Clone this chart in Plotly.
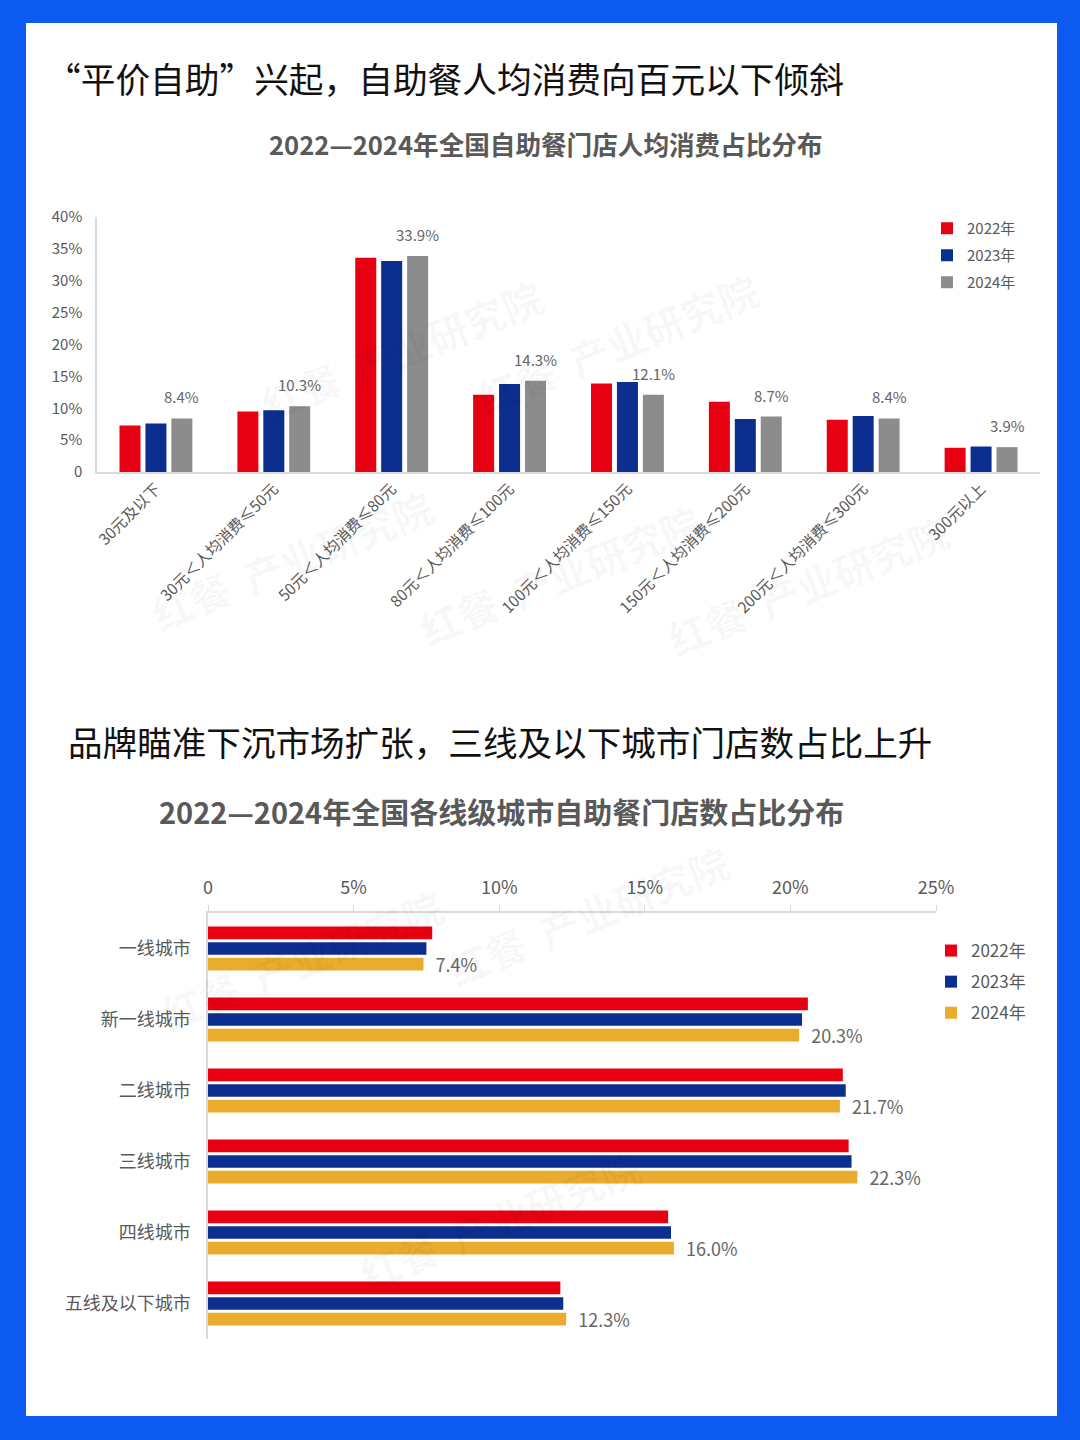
import plotly.graph_objects as go

# ---------------- data ----------------
price_cats = ["30元及以下", "30元＜人均消费≤50元", "50元＜人均消费≤80元", "80元＜人均消费≤100元",
              "100元＜人均消费≤150元", "150元＜人均消费≤200元", "200元＜人均消费≤300元", "300元以上"]
price_2022 = [7.3, 9.5, 33.6, 12.1, 13.9, 11.0, 8.2, 3.8]
price_2023 = [7.6, 9.7, 33.1, 13.8, 14.1, 8.3, 8.8, 4.0]
price_2024 = [8.4, 10.3, 33.9, 14.3, 12.1, 8.7, 8.4, 3.9]

city_cats = ["一线城市", "新一线城市", "二线城市", "三线城市", "四线城市", "五线及以下城市"]
city_2022 = [7.7, 20.6, 21.8, 22.0, 15.8, 12.1]
city_2023 = [7.5, 20.4, 21.9, 22.1, 15.9, 12.2]
city_2024 = [7.4, 20.3, 21.7, 22.3, 16.0, 12.3]

years = ["2022年", "2023年", "2024年"]
y1_tickvals = [0, 5, 10, 15, 20, 25, 30, 35, 40]
y1_ticktext = ["0", "5%", "10%", "15%", "20%", "25%", "30%", "35%", "40%"]
x2_tickvals = [0, 5, 10, 15, 20, 25]
x2_ticktext = ["0", "5%", "10%", "15%", "20%", "25%"]

heading1 = "“平价自助”兴起，自助餐人均消费向百元以下倾斜"
heading2 = "品牌瞄准下沉市场扩张，三线及以下城市门店数占比上升"
title1 = "2022—2024年全国自助餐门店人均消费占比分布"
title2 = "2022—2024年全国各线级城市自助餐门店数占比分布"
watermark = "红餐  产业研究院"

# ---------------- style ----------------
W, H = 1080, 1440
FONT = "Noto Sans CJK SC"
RED, NAVY, GRAY, GOLD = "#e60012", "#0c2e8e", "#8c8c8c", "#ebab2e"
TXT = "#595959"
AX = "#d9d9d9"

def px(x):
    return x / W

def py(y):
    return 1 - y / H

fig = go.Figure()

# top chart: vertical grouped bars
for name, vals, col in zip(years, [price_2022, price_2023, price_2024], [RED, NAVY, GRAY]):
    fig.add_trace(go.Bar(
        x=price_cats, y=vals, name=name, marker=dict(color=col, line=dict(width=0)),
        xaxis="x", yaxis="y", legend="legend", legendgroup="p" + name,
    ))

# bottom chart: horizontal grouped bars
for name, vals, col in zip(years, [city_2022, city_2023, city_2024], [RED, NAVY, GOLD]):
    is_last = col == GOLD
    fig.add_trace(go.Bar(
        y=city_cats, x=vals, name=name, orientation="h",
        marker=dict(color=col, line=dict(width=0)),
        xaxis="x2", yaxis="y2", legend="legend2", legendgroup="c" + name,
        text=["\u2002" + f"{v:.1f}%" for v in vals] if is_last else None,
        textposition="outside" if is_last else "none",
        textfont=dict(family=FONT, size=18, color="#666666"),
        constraintext="none", cliponaxis=False,
    ))

annotations = [
    dict(text=heading1, x=px(44), y=py(78), xref="paper", yref="paper", xanchor="left", yanchor="middle",
         showarrow=False, font=dict(family=FONT, size=34.7, color="#111111")),
    dict(text=heading2, x=px(66), y=py(741), xref="paper", yref="paper", xanchor="left", yanchor="middle",
         showarrow=False, font=dict(family=FONT, size=34.6, color="#111111")),
    dict(text="<b>" + title1 + "</b>", x=px(546), y=py(144), xref="paper", yref="paper", xanchor="center",
         yanchor="middle", showarrow=False, font=dict(family=FONT, size=25.6, color=TXT)),
    dict(text="<b>" + title2 + "</b>", x=px(501), y=py(811), xref="paper", yref="paper", xanchor="center",
         yanchor="middle", showarrow=False, font=dict(family=FONT, size=29, color=TXT)),
]
# value labels on the 2024 bars of the top chart (anchored at data coordinates)
for cat, v in zip(price_cats, price_2024):
    annotations.append(dict(text=f"{v:.1f}%", x=cat, y=v, xref="x", yref="y", xanchor="center",
                            yanchor="bottom", xshift=26, yshift=9, showarrow=False,
                            font=dict(family=FONT, size=15, color="#666666")))
# faint watermarks
for (wx, wy) in [(250, 265), (770, 258), (140, 560), (560, 575), (960, 585), (150, 960), (740, 915), (500, 1305)]:
    annotations.append(dict(text="<b>" + watermark + "</b>", x=px(wx), y=py(wy), xref="paper", yref="paper",
                            showarrow=False, textangle=-22,
                            font=dict(family=FONT, size=40, color="rgba(0,0,0,0.035)")))

fig.update_layout(
    width=W, height=H,
    margin=dict(l=0, r=0, t=0, b=0, autoexpand=False),
    paper_bgcolor="#0d5af0",
    plot_bgcolor="rgba(0,0,0,0)",
    font=dict(family=FONT, color=TXT),
    barmode="group",
    bargap=0.34, bargroupgap=0.19,
    showlegend=True,
    shapes=[dict(type="rect", xref="paper", yref="paper", x0=px(26), x1=px(1057), y0=py(1416), y1=py(23),
                 fillcolor="white", line=dict(width=0), layer="below")],
    annotations=annotations,
    xaxis=dict(domain=[px(97), px(1040)], anchor="y", showline=True, linecolor=AX, linewidth=1.5,
               showgrid=False, tickangle=-45, ticks="", tickfont=dict(family=FONT, size=15.5, color=TXT),
               automargin=False, fixedrange=True),
    yaxis=dict(domain=[py(472), py(217)], anchor="x", range=[0, 40], showline=True, linecolor=AX,
               linewidth=1.5, showgrid=False, tickvals=y1_tickvals, ticktext=y1_ticktext, automargin=False,
               ticklabelstandoff=10, tickfont=dict(family=FONT, size=15, color=TXT), zeroline=False),
    xaxis2=dict(domain=[px(208), px(936)], anchor="y2", side="top", range=[0, 25], showline=True,
                linecolor=AX, linewidth=1.5, showgrid=False, tickvals=x2_tickvals, ticktext=x2_ticktext,
                ticks="outside", ticklen=6, tickcolor=AX, ticklabelstandoff=4, automargin=False,
                tickfont=dict(family=FONT, size=18, color=TXT), zeroline=False),
    yaxis2=dict(domain=[py(1339), py(913)], anchor="x2", autorange="reversed", showline=True,
                linecolor=AX, linewidth=1.5, showgrid=False, ticks="", ticklabelstandoff=12, automargin=False,
                tickfont=dict(family=FONT, size=18, color=TXT)),
    legend=dict(x=px(927), y=py(212), xanchor="left", yanchor="top", bgcolor="rgba(0,0,0,0)",
                font=dict(family=FONT, size=15, color=TXT), itemwidth=30, tracegroupgap=4.5,
                traceorder="grouped"),
    legend2=dict(x=px(931), y=py(933), xanchor="left", yanchor="top", bgcolor="rgba(0,0,0,0)",
                 font=dict(family=FONT, size=17, color=TXT), itemwidth=30, tracegroupgap=6,
                 traceorder="grouped"),
)

fig.write_html("out.html", config={"displayModeBar": False},
               post_script="document.body.style.margin='0';document.body.style.padding='0';")
